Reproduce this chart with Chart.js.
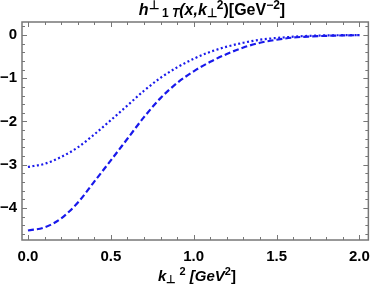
<!DOCTYPE html>
<html>
<head>
<meta charset="utf-8">
<script src="https://cdn.jsdelivr.net/npm/chart.js@4/dist/chart.umd.min.js"></script>
<style>
  html, body { margin: 0; padding: 0; background: #fff; }
  #wrap { width: 378px; height: 287px; }
</style>
</head>
<body>
<div id="wrap"><canvas id="plot"></canvas></div>
<script>
// k_perp^2 in GeV^2
const kValues = [0, 0.1, 0.2, 0.3, 0.4, 0.5, 0.6, 0.7, 0.8, 0.9, 1.0,
  1.1, 1.2, 1.3, 1.4, 1.5, 1.6, 1.7, 1.8, 1.9, 2.0];
const dottedValues = [-3.05, -2.98, -2.82, -2.60, -2.30, -1.97, -1.63, -1.29, -0.99, -0.75, -0.55,
  -0.39, -0.27, -0.18, -0.11, -0.07, -0.04, -0.02, -0.01, -0.005, -0.002];
const dashedValues = [-4.52, -4.45, -4.24, -3.88, -3.39, -2.90, -2.40, -1.90, -1.46, -1.11, -0.84,
  -0.62, -0.44, -0.29, -0.18, -0.11, -0.06, -0.035, -0.02, -0.01, -0.005];
const xTicks = [0, 0.5, 1.0, 1.5, 2.0];
const yTicks = [-4, -3, -2, -1, 0];

const blue = "rgb(25,25,235)";
const frameColor = "#777";
const boldFont = '"Liberation Sans", Arial, sans-serif';

function toPoints(ys) {
  return kValues.map((k, i) => ({ x: k, y: ys[i] }));
}

// draw a row of text pieces, some raised or lowered
function drawRich(ctx, parts, cx, baseline, size) {
  const fontOf = (p) => {
    const s = p.pos ? Math.round(size * 0.72) : size;
    return (p.italic ? "italic " : "") + "bold " + s + "px " + boldFont;
  };
  let total = 0;
  parts.forEach((p) => {
    ctx.font = fontOf(p);
    total += ctx.measureText(p.t).width;
  });
  let x = cx - total / 2;
  ctx.fillStyle = "#000";
  ctx.textBaseline = "alphabetic";
  ctx.textAlign = "left";
  parts.forEach((p) => {
    ctx.font = fontOf(p);
    let y = baseline;
    if (p.pos === "sup") y -= size * 0.4;
    if (p.pos === "sub") y += size * 0.15;
    ctx.fillText(p.t, x, y);
    x += ctx.measureText(p.t).width;
  });
}

const titleParts = [
  { t: "h", italic: true },
  { t: "\u22A5", pos: "sup" },
  { t: " 1 ", pos: "sub" },
  { t: "T", pos: "sub", italic: true },
  { t: "(x,k", italic: true },
  { t: "\u22A5", pos: "sub" },
  { t: "2", pos: "sup" },
  { t: ")[GeV" },
  { t: "\u22122", pos: "sup" },
  { t: "]" },
];
const xLabelParts = [
  { t: "k", italic: true },
  { t: "\u22A5", pos: "sub" },
  { t: " 2", pos: "sup" },
  { t: " [GeV", italic: true },
  { t: "2", pos: "sup" },
  { t: "]" },
];

const framePlugin = {
  id: "frame",
  afterDraw(chart) {
    const { ctx, chartArea: a, scales } = chart;
    ctx.save();
    ctx.strokeStyle = frameColor;
    ctx.lineWidth = 1;
    // minor and major ticks, pointing inward
    for (let v = 0; v <= 2.0001; v += 0.1) {
      const major = Math.abs(v * 2 - Math.round(v * 2)) < 1e-6;
      const len = major ? 5 : 3;
      const px = Math.round(scales.x.getPixelForValue(v)) + 0.5;
      ctx.beginPath();
      ctx.moveTo(px, a.bottom); ctx.lineTo(px, a.bottom - len);
      ctx.moveTo(px, a.top); ctx.lineTo(px, a.top + len);
      ctx.stroke();
    }
    for (let v = -4.6; v <= 0.2001; v += 0.2) {
      const major = Math.abs(v - Math.round(v)) < 1e-6;
      const len = major ? 5 : 3;
      const py = Math.round(scales.y.getPixelForValue(v)) + 0.5;
      ctx.beginPath();
      ctx.moveTo(a.left, py); ctx.lineTo(a.left + len, py);
      ctx.moveTo(a.right, py); ctx.lineTo(a.right - len, py);
      ctx.stroke();
    }
    ctx.lineWidth = 1.5;
    ctx.strokeRect(a.left, a.top, a.right - a.left, a.bottom - a.top);
    drawRich(ctx, titleParts, 212, 15, 16);
    drawRich(ctx, xLabelParts, 197, 281, 15);
    ctx.restore();
  },
};

new Chart(document.getElementById("plot"), {
  type: "line",
  data: {
    datasets: [
      {
        data: toPoints(dottedValues),
        borderColor: blue,
        borderWidth: 2.2,
        borderDash: [2, 2.5],
        pointRadius: 0,
        cubicInterpolationMode: "monotone",
      },
      {
        data: toPoints(dashedValues),
        borderColor: blue,
        borderWidth: 2.2,
        borderDash: [6, 3],
        pointRadius: 0,
        cubicInterpolationMode: "monotone",
      },
    ],
  },
  options: {
    responsive: true,
    maintainAspectRatio: false,
    animation: false,
    layout: { padding: { top: 22, right: 6, left: 0, bottom: 0 } },
    plugins: { legend: { display: false }, tooltip: { enabled: false } },
    scales: {
      x: {
        type: "linear",
        min: -0.036,
        max: 2.054,
        grid: { display: false, drawTicks: false },
        border: { display: false },
        afterBuildTicks: (s) => { s.ticks = xTicks.map((v) => ({ value: v })); },
        afterFit: (s) => { s.height = 47; },
        ticks: {
          color: "#000",
          padding: 8,
          maxRotation: 0,
          font: { family: boldFont, size: 15, weight: "bold" },
          callback: (v) => Number(v).toFixed(1),
        },
      },
      y: {
        min: -4.74,
        max: 0.3,
        grid: { display: false, drawTicks: false },
        border: { display: false },
        afterBuildTicks: (s) => { s.ticks = yTicks.map((v) => ({ value: v })); },
        afterFit: (s) => { s.width = 22; },
        ticks: {
          color: "#000",
          padding: 5,
          font: { family: boldFont, size: 15, weight: "bold" },
          callback: (v) => (v < 0 ? "\u2212" + Math.abs(v) : String(v)),
        },
      },
    },
  },
  plugins: [framePlugin],
});
</script>
</body>
</html>
